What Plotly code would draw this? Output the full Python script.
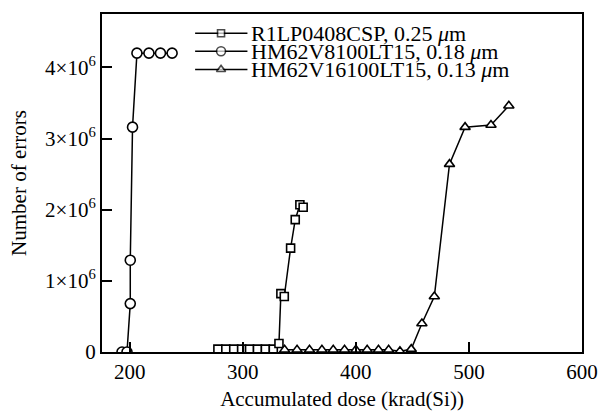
import plotly.graph_objects as go

# R1LP0408CSP, 0.25 um  (squares)
sq_x = [278, 285, 292, 299, 306, 313, 320, 327, 332, 333.7, 336.7, 342.3, 346.4, 350.5, 353.4]
sq_y = [0.04e6, 0.04e6, 0.04e6, 0.04e6, 0.04e6, 0.04e6, 0.04e6, 0.04e6,
        0.12e6, 0.82e6, 0.78e6, 1.46e6, 1.86e6, 2.07e6, 2.035e6]

# HM62V8100LT15, 0.18 um  (circles)
ci_x = [193.2, 197.6, 200.5, 200.5, 202.5, 206.4, 217.0, 227.2, 237.5]
ci_y = [0, 0, 0.68e6, 1.29e6, 3.16e6, 4.2e6, 4.2e6, 4.2e6, 4.2e6]

# HM62V16100LT15, 0.13 um  (triangles)
tr_x = [337, 348, 359, 370, 380, 390, 400, 410, 420, 429, 439, 449,
        458.4, 469.4, 482.8, 496.6, 519.5, 535.3]
tr_y = [0.03e6] * 10 + [0.01e6, 0.04e6,
        0.40e6, 0.78e6, 2.64e6, 3.16e6, 3.19e6, 3.46e6]

names = ["R1LP0408CSP, 0.25 <i>μ</i>m",
         "HM62V8100LT15, 0.18 <i>μ</i>m",
         "HM62V16100LT15, 0.13 <i>μ</i>m"]

x_ticks = [200, 300, 400, 500, 600]
y_ticks = [0, 1e6, 2e6, 3e6, 4e6]
y_ticktext = ["0", "1×10<sup>6</sup>", "2×10<sup>6</sup>", "3×10<sup>6</sup>", "4×10<sup>6</sup>"]

# legend layout (fractions of the plot area)
leg_rows = [0.943, 0.890, 0.836]
leg_line = [0.194, 0.303]
leg_mark = 0.248
leg_text = 0.306

FONT = "Liberation Serif, Times New Roman, serif"
FS = 21
LFS = 22

fig = go.Figure()
series = [(sq_x, sq_y, "square", 8), (ci_x, ci_y, "circle", 10), (tr_x, tr_y, "triangle-up", 9)]
for (xs, ys, sym, sz), nm, ry in zip(series, names, leg_rows):
    fig.add_trace(go.Scatter(
        x=xs, y=ys, mode="lines+markers", name=nm, showlegend=False,
        line=dict(color="black", width=1.5),
        marker=dict(symbol=sym, size=sz, color="white",
                    line=dict(color="black", width=1.6)),
    ))
    # legend sample
    fig.add_trace(go.Scatter(
        x=[leg_line[0], leg_mark, leg_line[1]], y=[ry, ry, ry], xaxis="x2", yaxis="y2",
        mode="lines+markers", showlegend=False, hoverinfo="skip",
        line=dict(color="black", width=1.5),
        marker=dict(symbol=sym, size=[0, sz - 1, 0], color="white",
                    line=dict(color="black", width=1.6)),
    ))
    fig.add_annotation(x=leg_text, y=ry, xref="x2", yref="y2", text=nm,
                       showarrow=False, xanchor="left", yanchor="middle",
                       font=dict(size=LFS))

fig.update_layout(
    width=598, height=411,
    margin=dict(l=102, r=16, t=14, b=59),
    paper_bgcolor="white", plot_bgcolor="white",
    font=dict(family=FONT, size=FS, color="black"),
    showlegend=False,
    xaxis2=dict(overlaying="x", range=[0, 1], visible=False),
    yaxis2=dict(overlaying="y", range=[0, 1], visible=False),
)
fig.update_layout(xaxis=dict(
    range=[175.5, 600], tickvals=x_ticks, ticks="inside", ticklen=10, tickwidth=1.5,
    tickcolor="black", showline=True, linecolor="black", linewidth=2, mirror=True,
    showgrid=False, zeroline=False, tickfont=dict(size=FS), automargin=False,
    title=dict(text="Accumulated dose (krad(Si))", font=dict(size=FS), standoff=8),
))
fig.update_layout(yaxis=dict(
    range=[0, 4.75e6], tickvals=y_ticks, ticktext=y_ticktext, ticks="inside", ticklen=10,
    tickwidth=1.5, tickcolor="black", showline=True, linecolor="black", linewidth=2,
    mirror=True, showgrid=False, zeroline=False, tickfont=dict(size=FS), automargin=False,
    title=dict(text="Number of errors", font=dict(size=FS), standoff=13),
))

fig.write_html("out.html")
